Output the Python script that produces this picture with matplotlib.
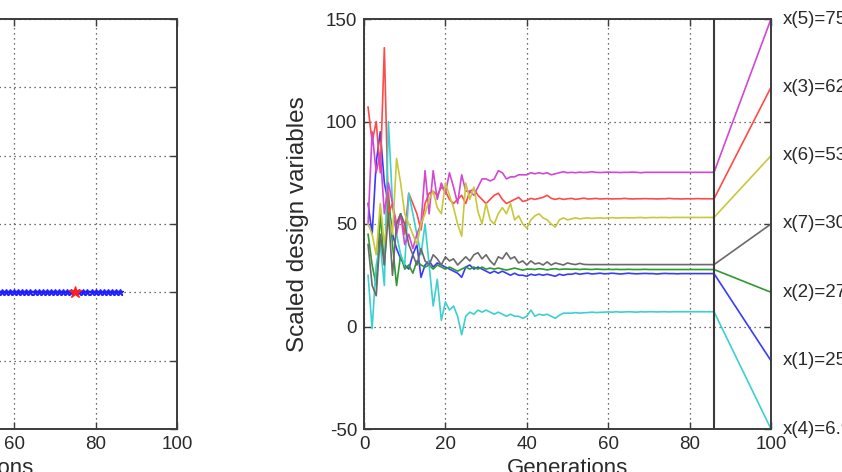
import matplotlib
matplotlib.use('Agg')
import matplotlib.pyplot as plt
import numpy as np

plt.rcParams['font.family'] = ['Liberation Sans', 'DejaVu Sans']
plt.rcParams['axes.unicode_minus'] = False

# --- datos ---
gens = list(range(1, 87))
last_gen = 86

# mejor individuo por generacion (panel izquierdo, recortado): siempre en la misma linea
fitness = [2.0] * 86
best_gen = 75
best_fit = 2.0

x1 = [60, 45, 80, 95, 70, 60, 45, 38, 33, 30,
      28, 35, 40, 24, 30, 32, 29, 31, 30, 29,
      28, 27, 26, 24, 29, 30, 28, 29, 28, 27,
      26, 27, 26, 27, 26, 25, 26, 25, 25, 24.5,
      25.5, 25, 25.5, 25, 25.5, 25, 24.5, 25.5, 25, 25.5,
      25.5, 26, 25.5, 25.8, 26, 25.6, 25.8, 26, 25.7, 25.8,
      26, 25.8, 25.6, 25.8, 26, 25.8, 25.7, 25.8, 25.9, 25.8,
      25.8, 25.6, 25.8, 25.9, 25.8, 25.8, 25.7, 25.8, 25.8, 25.8,
      25.8, 25.8, 25.8, 25.8, 25.8, 25.8]
x2 = [45, 30, 20, 55, 30, 65, 40, 20, 35, 28,
      30, 26, 32, 30, 29, 30, 28, 30, 29, 28,
      29, 28, 27, 28, 29, 28, 29, 28, 29, 28,
      28.5, 28, 28.5, 28, 27.5, 28, 28.5, 28, 27.5, 28,
      28, 27.8, 28.2, 28, 27.6, 28, 28.2, 27.8, 28, 28,
      27.9, 28, 27.8, 28, 27.9, 27.8, 28, 27.9, 27.8, 27.9,
      27.8, 27.9, 27.8, 27.8, 27.9, 27.8, 27.8, 27.8, 27.9, 27.8,
      27.8, 27.8, 27.8, 27.8, 27.8, 27.8, 27.8, 27.8, 27.8, 27.8,
      27.8, 27.8, 27.8, 27.8, 27.8, 27.8]
x3 = [107, 90, 100, 75, 136, 55, 60, 50, 55, 45,
      65, 60, 55, 47, 60, 65, 66, 64, 68, 66,
      62, 60, 62, 64, 60, 66, 67, 64, 62, 60,
      62, 64, 65, 62, 60, 61, 62, 63, 61, 61.5,
      62.5, 62, 62.5, 63, 64, 62.5, 62, 62.5, 62, 62.3,
      62.5, 62, 62.3, 62.6, 62.2, 62.3, 62.5, 62.2, 62.3, 62.4,
      62.2, 62.3, 62.3, 62.5, 62.3, 62.2, 62.3, 62.3, 62.4, 62.3,
      62.3, 62.2, 62.3, 62.3, 62.5, 62.3, 62.3, 62.2, 62.3, 62.3,
      62.3, 62.4, 62.3, 62.3, 62.3, 62.3]
x4 = [25, -1, 30, 40, 20, 100, 60, 45, 35, 30,
      65, 55, 45, 35, 50, 30, 10, 23, 3, 12,
      8, 10, 5, -4, 5, 7, 6, 8, 7, 8,
      7, 6, 7, 6, 5, 6, 5, 5, 4, 5,
      8, 5, 6, 5.5, 6, 5, 4, 5.5, 6.5, 6.5,
      6.5, 6.8, 6.5, 6.7, 6.8, 7, 6.8, 6.9, 7, 7.1,
      7, 7.2, 7, 7.1, 7.2, 7.1, 7, 7.2, 7.1, 7.2,
      7.2, 7.1, 7.2, 7.2, 7.1, 7.2, 7.2, 7.2, 7.2, 7.2,
      7.2, 7.2, 7.2, 7.2, 7.2, 7.2]
x5 = [50, 95, 75, 85, 55, 70, 60, 45, 55, 40,
      45, 38, 45, 50, 76, 55, 76, 62, 70, 65,
      75, 68, 60, 74, 66, 66, 64, 68, 72, 72,
      71, 72, 76, 75, 72, 73, 73, 74, 74, 74,
      75, 74.5, 75, 74.5, 75, 74, 74.5, 75, 75.5, 75,
      75.2, 75, 75.3, 75.1, 75.2, 75.5, 75.2, 75.1, 75.2, 75.3,
      75.2, 75.2, 75.1, 75.2, 75.2, 75.3, 75.2, 75, 75.2, 75.2,
      75.2, 75.2, 75.2, 75.2, 75.2, 75.2, 75.2, 75.2, 75.2, 75.2,
      75.2, 75.2, 75.2, 75.2, 75.2, 75.2]
x6 = [50, 45, 35, 60, 40, 55, 45, 82, 70, 55,
      50, 45, 40, 50, 55, 62, 66, 58, 55, 70,
      64, 58, 50, 44, 70, 62, 68, 56, 50, 60,
      52, 50, 55, 58, 55, 60, 52, 54, 50, 48,
      52, 54, 55, 53, 52, 50, 48.5, 52, 53, 52,
      52.5, 53, 52.5, 52.8, 53, 52.7, 52.9, 53, 52.8, 53,
      53.1, 52.9, 53, 53.1, 53, 53, 53.1, 53.2, 53, 53.1,
      53.2, 53.1, 53.2, 53.2, 53.1, 53.2, 53.2, 53.2, 53.2, 53.2,
      53.2, 53.2, 53.2, 53.2, 53.2, 53.2]
x7 = [40, 20, 15, 45, 30, 55, 25, 50, 55, 50,
      40, 35, 30, 38, 32, 30, 35, 33, 30, 34,
      32, 33, 30, 32, 34, 32, 35, 36, 33, 35,
      32, 30, 34, 33, 36, 33, 34, 31, 32, 30,
      32, 30.5, 31, 30, 31.5, 30, 31, 30.5, 30, 31,
      30.5, 30.2, 30.8, 30.3, 30.2, 30.2, 30.2, 30.2, 30.2, 30.2,
      30.2, 30.2, 30.2, 30.2, 30.2, 30.2, 30.2, 30.2, 30.2, 30.2,
      30.2, 30.2, 30.2, 30.2, 30.2, 30.2, 30.2, 30.2, 30.2, 30.2,
      30.2, 30.2, 30.2, 30.2, 30.2, 30.2]

series = [x1, x2, x3, x4, x5, x6, x7]
names = ['x(1)', 'x(2)', 'x(3)', 'x(4)', 'x(5)', 'x(6)', 'x(7)']
final_vals = [25.77, 27.84, 62.31, 6.93, 75.24, 53.18, 30.21]
# posicion de la etiqueta a la derecha (gen 100)
label_y = [-16.7, 16.7, 116.7, -50, 150, 83.3, 50]

colors = ['#3a3aff', '#2f9a2f', '#ff4a4a', '#3dd0d0', '#d248d2', '#c8c83c', '#6a6a6a']
txt_color = '#2a2a2a'
edge = '#3c3c3c'

fig = plt.figure(figsize=(8.42, 4.72), dpi=100)
W, H = 842, 472
axL = fig.add_axes([-230 / W, 43 / H, 407 / W, 410 / H])
axR = fig.add_axes([364 / W, 43 / H, 407 / W, 410 / H])

for ax in (axL, axR):
    for s in ax.spines.values():
        s.set_color(edge)
        s.set_linewidth(1.4)
    ax.tick_params(direction='in', top=True, right=True, length=5, width=1,
                   color=edge, labelsize=13.5, labelcolor=txt_color, pad=5)
    ax.grid(True, ls=(0, (1, 3)), color='#404040', lw=0.9)
    ax.set_xlim(0, 100)
    ax.set_xticks(np.arange(0, 101, 20))

# panel izquierdo (cortado)
axL.plot(gens, fitness, color='#2020ff', marker='*', ms=5, lw=1.2)
axL.plot([best_gen], [best_fit], color='#ff2020', marker='*', ms=9, ls='none')
axL.set_ylim(0, 6)
axL.set_yticks(np.arange(0, 7, 1))
axL.set_xlabel('Generations', fontsize=16, color=txt_color, labelpad=4)

# panel derecho
for vals, c, yl in zip(series, colors, label_y):
    axR.plot(gens, vals, color=c, lw=1.2)
    axR.plot([last_gen, 100], [vals[-1], yl], color=c, lw=1.2)
axR.axvline(last_gen, color='#3a3a3a', lw=1.5)
axR.set_ylim(-50, 150)
axR.set_yticks(np.arange(-50, 151, 50))
axR.set_xlabel('Generations', fontsize=16, color=txt_color, labelpad=4)
axR.set_ylabel('Scaled design variables', fontsize=17.5, color=txt_color, labelpad=12)

for nm, v, yl in zip(names, final_vals, label_y):
    axR.text(103, yl, f'{nm}={v:.2f}', fontsize=13.5, color=txt_color,
             ha='left', va='center', clip_on=False)

fig.savefig('out.png', dpi=100)
